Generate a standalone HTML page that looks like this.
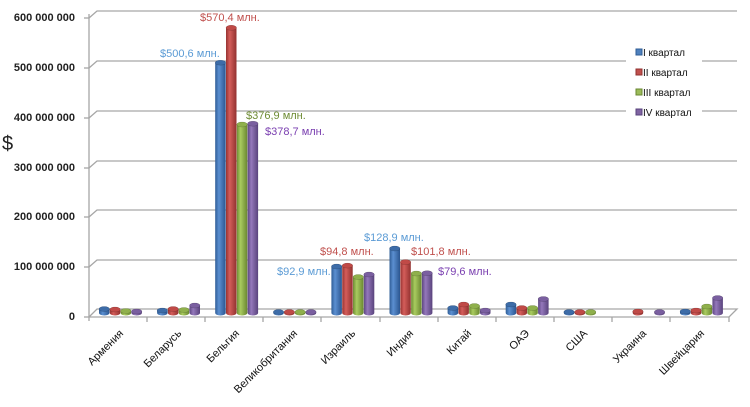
<!DOCTYPE html>
<html><head><meta charset="utf-8"><style>
body{margin:0;background:#fff;}
svg{display:block;font-family:"Liberation Sans",sans-serif;}
.a{fill:url(#g0)}.b{fill:url(#g1)}.c{fill:url(#g2)}.d{fill:url(#g3)}
.ta{fill:#3d6ca8}.tb{fill:#c04a47}.tc{fill:#8fb04c}.td{fill:#7a5fa0}
ellipse{stroke:rgba(0,0,0,.25);stroke-width:.5}
</style></head><body>
<svg width="750" height="407" viewBox="0 0 750 407">
<defs>
<linearGradient id="g0" x1="0" x2="1"><stop offset="0" stop-color="#2f5d96"/><stop offset=".35" stop-color="#5b8fd1"/><stop offset="1" stop-color="#2b5690"/></linearGradient>
<linearGradient id="g1" x1="0" x2="1"><stop offset="0" stop-color="#973331"/><stop offset=".35" stop-color="#d45d5a"/><stop offset="1" stop-color="#923230"/></linearGradient>
<linearGradient id="g2" x1="0" x2="1"><stop offset="0" stop-color="#6e8c34"/><stop offset=".35" stop-color="#a9cb5f"/><stop offset="1" stop-color="#6a8731"/></linearGradient>
<linearGradient id="g3" x1="0" x2="1"><stop offset="0" stop-color="#5d4681"/><stop offset=".35" stop-color="#9478bb"/><stop offset="1" stop-color="#59437c"/></linearGradient>
</defs>
<g stroke="#a6a6a6" stroke-width="1.3" fill="none">
<polyline points="89,18 97,11 737,11"/>
<polyline points="89,68 97,61 737,61"/>
<polyline points="89,118 97,111 737,111"/>
<polyline points="89,168 97,161 737,161"/>
<polyline points="89,217 97,210 737,210"/>
<polyline points="89,267 97,260 737,260"/>
<polyline points="89,317 97,309 737,309 729,317 89,317"/>
<line x1="89" y1="14" x2="89" y2="321"/>
<line x1="84" y1="18" x2="89" y2="18"/><line x1="84" y1="68" x2="89" y2="68"/><line x1="84" y1="118" x2="89" y2="118"/><line x1="84" y1="168" x2="89" y2="168"/><line x1="84" y1="217" x2="89" y2="217"/><line x1="84" y1="267" x2="89" y2="267"/><line x1="84" y1="317" x2="89" y2="317"/>
<line x1="147" y1="317" x2="147" y2="322"/><line x1="205" y1="317" x2="205" y2="322"/><line x1="263" y1="317" x2="263" y2="322"/><line x1="321" y1="317" x2="321" y2="322"/><line x1="380" y1="317" x2="380" y2="322"/><line x1="438" y1="317" x2="438" y2="322"/><line x1="496" y1="317" x2="496" y2="322"/><line x1="554" y1="317" x2="554" y2="322"/><line x1="612" y1="317" x2="612" y2="322"/><line x1="670" y1="317" x2="670" y2="322"/><line x1="729" y1="317" x2="729" y2="322"/>
</g>
<g>
<!-- Armenia -->
<rect class="a" x="99" y="306.5" width="10.5" height="9" rx="5.25" ry="2.5"/><ellipse class="ta" cx="104.25" cy="309" rx="5.25" ry="2.5"/>
<rect class="b" x="109.8" y="307" width="10.5" height="8.5" rx="5.25" ry="2.5"/><ellipse class="tb" cx="115.05" cy="309.5" rx="5.25" ry="2.5"/>
<rect class="c" x="120.6" y="308.5" width="10.5" height="7" rx="5.25" ry="2.5"/><ellipse class="tc" cx="125.85" cy="311" rx="5.25" ry="2.5"/>
<rect class="d" x="131.4" y="309" width="10.5" height="6.5" rx="5.25" ry="2.5"/><ellipse class="td" cx="136.65" cy="311.5" rx="5.25" ry="2.5"/>
<!-- Belarus -->
<rect class="a" x="157.1" y="308" width="10.5" height="7.5" rx="5.25" ry="2.5"/><ellipse class="ta" cx="162.35" cy="310.5" rx="5.25" ry="2.5"/>
<rect class="b" x="167.9" y="306.5" width="10.5" height="9" rx="5.25" ry="2.5"/><ellipse class="tb" cx="173.15" cy="309" rx="5.25" ry="2.5"/>
<rect class="c" x="178.7" y="307.5" width="10.5" height="8" rx="5.25" ry="2.5"/><ellipse class="tc" cx="183.95" cy="310" rx="5.25" ry="2.5"/>
<rect class="d" x="189.5" y="303" width="10.5" height="12.5" rx="5.25" ry="2.5"/><ellipse class="td" cx="194.75" cy="305.5" rx="5.25" ry="2.5"/>
<!-- Belgium -->
<rect class="a" x="215.2" y="60.2" width="10.5" height="255.3" rx="5.25" ry="2.5"/><ellipse class="ta" cx="220.45" cy="62.7" rx="5.25" ry="2.5"/>
<rect class="b" x="226" y="25.3" width="10.5" height="290.2" rx="5.25" ry="2.5"/><ellipse class="tb" cx="231.25" cy="27.8" rx="5.25" ry="2.5"/>
<rect class="c" x="236.8" y="122" width="10.5" height="193.5" rx="5.25" ry="2.5"/><ellipse class="tc" cx="242.05" cy="124.5" rx="5.25" ry="2.5"/>
<rect class="d" x="247.6" y="121.2" width="10.5" height="194.3" rx="5.25" ry="2.5"/><ellipse class="td" cx="252.85" cy="123.7" rx="5.25" ry="2.5"/>
<!-- UK -->
<rect class="a" x="273.3" y="309.5" width="10.5" height="6" rx="5.25" ry="2.5"/><ellipse class="ta" cx="278.55" cy="312" rx="5.25" ry="2.5"/>
<rect class="b" x="284.1" y="309.5" width="10.5" height="6" rx="5.25" ry="2.5"/><ellipse class="tb" cx="289.35" cy="312" rx="5.25" ry="2.5"/>
<rect class="c" x="294.9" y="309.5" width="10.5" height="6" rx="5.25" ry="2.5"/><ellipse class="tc" cx="300.15" cy="312" rx="5.25" ry="2.5"/>
<rect class="d" x="305.7" y="309.5" width="10.5" height="6" rx="5.25" ry="2.5"/><ellipse class="td" cx="310.95" cy="312" rx="5.25" ry="2.5"/>
<!-- Israel -->
<rect class="a" x="331.4" y="264" width="10.5" height="51.5" rx="5.25" ry="2.5"/><ellipse class="ta" cx="336.65" cy="266.5" rx="5.25" ry="2.5"/>
<rect class="b" x="342.2" y="263.1" width="10.5" height="52.4" rx="5.25" ry="2.5"/><ellipse class="tb" cx="347.45" cy="265.6" rx="5.25" ry="2.5"/>
<rect class="c" x="353" y="274.5" width="10.5" height="41" rx="5.25" ry="2.5"/><ellipse class="tc" cx="358.25" cy="277" rx="5.25" ry="2.5"/>
<rect class="d" x="363.8" y="272" width="10.5" height="43.5" rx="5.25" ry="2.5"/><ellipse class="td" cx="369.05" cy="274.5" rx="5.25" ry="2.5"/>
<!-- India -->
<rect class="a" x="389.5" y="246" width="10.5" height="69.5" rx="5.25" ry="2.5"/><ellipse class="ta" cx="394.75" cy="248.5" rx="5.25" ry="2.5"/>
<rect class="b" x="400.3" y="259.6" width="10.5" height="55.9" rx="5.25" ry="2.5"/><ellipse class="tb" cx="405.55" cy="262.1" rx="5.25" ry="2.5"/>
<rect class="c" x="411.1" y="271" width="10.5" height="44.5" rx="5.25" ry="2.5"/><ellipse class="tc" cx="416.35" cy="273.5" rx="5.25" ry="2.5"/>
<rect class="d" x="421.9" y="270.7" width="10.5" height="44.8" rx="5.25" ry="2.5"/><ellipse class="td" cx="427.15" cy="273.2" rx="5.25" ry="2.5"/>
<!-- China -->
<rect class="a" x="447.6" y="305.5" width="10.5" height="10" rx="5.25" ry="2.5"/><ellipse class="ta" cx="452.85" cy="308" rx="5.25" ry="2.5"/>
<rect class="b" x="458.4" y="302" width="10.5" height="13.5" rx="5.25" ry="2.5"/><ellipse class="tb" cx="463.65" cy="304.5" rx="5.25" ry="2.5"/>
<rect class="c" x="469.2" y="303.5" width="10.5" height="12" rx="5.25" ry="2.5"/><ellipse class="tc" cx="474.45" cy="306" rx="5.25" ry="2.5"/>
<rect class="d" x="480" y="308" width="10.5" height="7.5" rx="5.25" ry="2.5"/><ellipse class="td" cx="485.25" cy="310.5" rx="5.25" ry="2.5"/>
<!-- UAE -->
<rect class="a" x="505.7" y="302" width="10.5" height="13.5" rx="5.25" ry="2.5"/><ellipse class="ta" cx="510.95" cy="304.5" rx="5.25" ry="2.5"/>
<rect class="b" x="516.5" y="305.5" width="10.5" height="10" rx="5.25" ry="2.5"/><ellipse class="tb" cx="521.75" cy="308" rx="5.25" ry="2.5"/>
<rect class="c" x="527.3" y="305.5" width="10.5" height="10" rx="5.25" ry="2.5"/><ellipse class="tc" cx="532.55" cy="308" rx="5.25" ry="2.5"/>
<rect class="d" x="538.1" y="296.5" width="10.5" height="19" rx="5.25" ry="2.5"/><ellipse class="td" cx="543.35" cy="299" rx="5.25" ry="2.5"/>
<!-- USA -->
<rect class="a" x="563.8" y="309.5" width="10.5" height="6" rx="5.25" ry="2.5"/><ellipse class="ta" cx="569.05" cy="312" rx="5.25" ry="2.5"/>
<rect class="b" x="574.6" y="309.5" width="10.5" height="6" rx="5.25" ry="2.5"/><ellipse class="tb" cx="579.85" cy="312" rx="5.25" ry="2.5"/>
<rect class="c" x="585.4" y="309.5" width="10.5" height="6" rx="5.25" ry="2.5"/><ellipse class="tc" cx="590.65" cy="312" rx="5.25" ry="2.5"/>
<!-- Ukraine -->
<rect class="b" x="632.7" y="309" width="10.5" height="6.5" rx="5.25" ry="2.5"/><ellipse class="tb" cx="637.95" cy="311.5" rx="5.25" ry="2.5"/>
<rect class="d" x="654.3" y="309.5" width="10.5" height="6" rx="5.25" ry="2.5"/><ellipse class="td" cx="659.55" cy="312" rx="5.25" ry="2.5"/>
<!-- Switzerland -->
<rect class="a" x="680" y="309" width="10.5" height="6.5" rx="5.25" ry="2.5"/><ellipse class="ta" cx="685.25" cy="311.5" rx="5.25" ry="2.5"/>
<rect class="b" x="690.8" y="308" width="10.5" height="7.5" rx="5.25" ry="2.5"/><ellipse class="tb" cx="696.05" cy="310.5" rx="5.25" ry="2.5"/>
<rect class="c" x="701.6" y="304" width="10.5" height="11.5" rx="5.25" ry="2.5"/><ellipse class="tc" cx="706.85" cy="306.5" rx="5.25" ry="2.5"/>
<rect class="d" x="712.4" y="295.5" width="10.5" height="20" rx="5.25" ry="2.5"/><ellipse class="td" cx="717.65" cy="298" rx="5.25" ry="2.5"/>
</g>
<g font-size="11" font-weight="bold" fill="#222" text-anchor="end">
<text x="75" y="21">600 000 000</text><text x="75" y="71">500 000 000</text><text x="75" y="121">400 000 000</text><text x="75" y="171">300 000 000</text><text x="75" y="220">200 000 000</text><text x="75" y="270">100 000 000</text><text x="75" y="320">0</text>
</g>
<text x="2" y="150" font-size="20" fill="#222">$</text>
<g font-size="11" fill="#111" text-anchor="end">
<text transform="translate(124,334) rotate(-45)">Армения</text>
<text transform="translate(182,334) rotate(-45)">Беларусь</text>
<text transform="translate(240,334) rotate(-45)">Бельгия</text>
<text transform="translate(298,334) rotate(-45)">Великобритания</text>
<text transform="translate(356,334) rotate(-45)">Израиль</text>
<text transform="translate(414,334) rotate(-45)">Индия</text>
<text transform="translate(472,334) rotate(-45)">Китай</text>
<text transform="translate(530,334) rotate(-45)">ОАЭ</text>
<text transform="translate(588,334) rotate(-45)">США</text>
<text transform="translate(647,334) rotate(-45)">Украина</text>
<text transform="translate(705,334) rotate(-45)">Швейцария</text>
</g>
<g font-size="11">
<text x="160" y="57" fill="#5b9bd5">$500,6 млн.</text>
<text x="200" y="21" fill="#c0504d">$570,4 млн.</text>
<text x="246" y="119" fill="#6e8c34">$376,9 млн.</text>
<text x="265" y="135" fill="#7a3fb0">$378,7 млн.</text>
<text x="277" y="275" fill="#5b9bd5">$92,9 млн.</text>
<text x="320" y="255" fill="#c0504d">$94,8 млн.</text>
<text x="364" y="241" fill="#5b9bd5">$128,9 млн.</text>
<text x="411" y="255" fill="#c0504d">$101,8 млн.</text>
<text x="438" y="275" fill="#7a3fb0">$79,6 млн.</text>
</g>
<rect x="626" y="42" width="76" height="82" fill="#fff"/>
<g font-size="10" fill="#111">
<rect x="636" y="49" width="6" height="6" fill="#4f81bd" stroke="#2f5d96"/><text x="643" y="56">I квартал</text>
<rect x="636" y="69" width="6" height="6" fill="#c0504d" stroke="#923230"/><text x="643" y="76">II квартал</text>
<rect x="636" y="89" width="6" height="6" fill="#9bbb59" stroke="#6a8731"/><text x="643" y="96">III квартал</text>
<rect x="636" y="109" width="6" height="6" fill="#8064a2" stroke="#59437c"/><text x="643" y="116">IV квартал</text>
</g>
</svg>
</body></html>
